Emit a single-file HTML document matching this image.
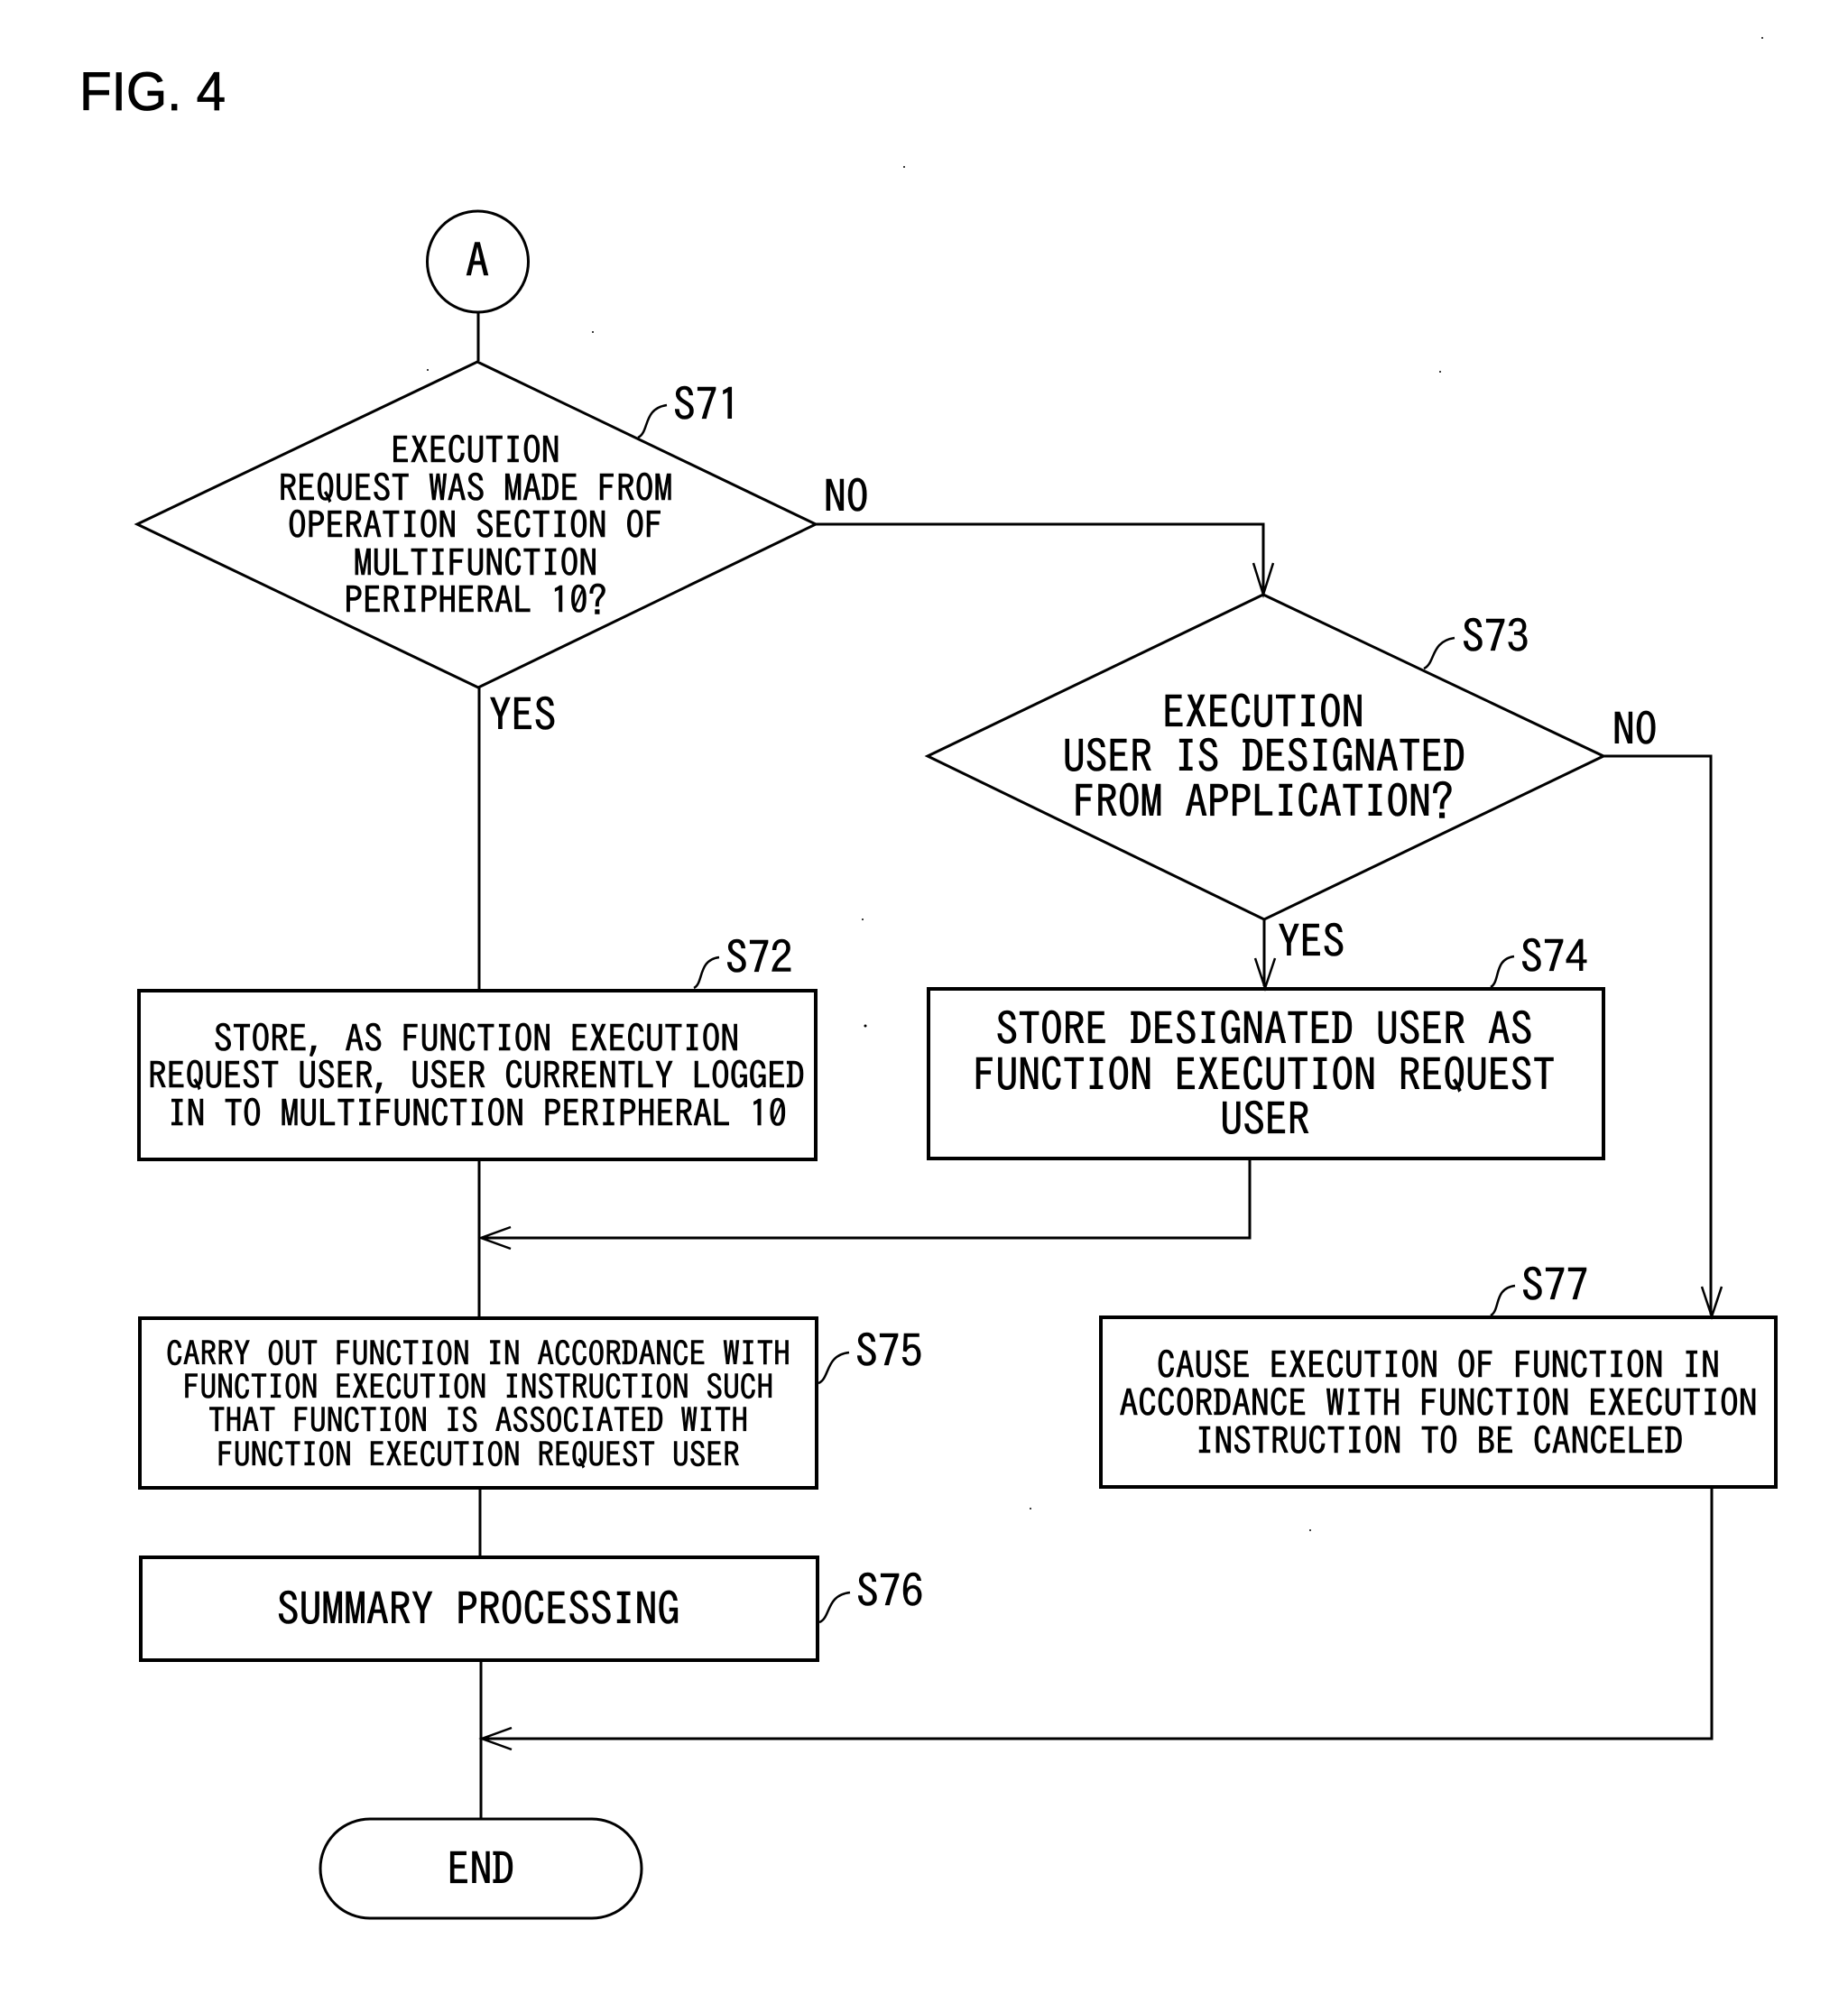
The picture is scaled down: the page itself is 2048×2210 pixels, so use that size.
<!DOCTYPE html>
<html><head><meta charset="utf-8"><style>
html,body{margin:0;padding:0;background:#fff;width:2048px;height:2210px;overflow:hidden}
svg{display:block}
text{font-family:"IPAGothic","Liberation Sans",sans-serif;fill:#000;stroke:#000;stroke-width:.6}
.m{text-anchor:middle}
.s{fill:none;stroke:#000;stroke-width:4}
.t{fill:none;stroke:#000;stroke-width:3}
.l{fill:none;stroke:#000;stroke-width:2.5}
</style></head><body>
<svg width="2048" height="2210" viewBox="0 0 2048 2210" xmlns="http://www.w3.org/2000/svg">
<text x="88" y="122" style="font-family:'Liberation Sans',sans-serif;font-size:60px;stroke-width:.8" textLength="162" lengthAdjust="spacingAndGlyphs">FIG. 4</text>

<ellipse class="t" cx="529.5" cy="290" rx="56" ry="56"/>
<path class="t" d="M530 346V400"/>
<polygon class="t" points="529,401 904,581 530,762 152,581"/>
<path class="t" d="M531 761V1097"/>
<rect class="s" x="154" y="1098" width="750" height="187"/>
<path class="t" d="M531 1285V1461"/>
<rect class="s" x="155" y="1461" width="750" height="188"/>
<path class="t" d="M532 1649V1726"/>
<rect class="s" x="156" y="1726" width="750" height="114"/>
<path class="t" d="M533 1840V2016"/>
<rect class="t" x="355" y="2016" width="356" height="110" rx="55" ry="55"/>

<path class="t" d="M903 581H1400V657"/>
<path class="l" d="M1389 624L1400 659L1411 624"/>
<polygon class="t" points="1400,659 1777,838 1401,1019 1028,838"/>
<path class="t" d="M1401 1018V1093"/>
<path class="l" d="M1391 1062L1402 1095L1413 1062"/>
<rect class="s" x="1029" y="1096" width="748" height="188"/>
<path class="t" d="M1385 1284V1372H534"/>
<path class="l" d="M566 1360L533 1372L566 1384"/>

<path class="t" d="M1777 838H1896V1457"/>
<path class="l" d="M1886 1426L1897 1459L1908 1426"/>
<rect class="s" x="1220" y="1460" width="748" height="188"/>
<path class="t" d="M1897 1648V1927H535"/>
<path class="l" d="M567 1915L534 1927L567 1939"/>

<path class="l" d="M707 485C720 479 712 453 739 449"/>
<path class="l" d="M1578 741C1591 735 1585 711 1612 707"/>
<path class="l" d="M1652 1094C1663 1088 1655 1063 1678 1060"/>
<path class="l" d="M769 1095C780 1090 773 1064 797 1061"/>
<path class="l" d="M907 1533C920 1528 914 1502 941 1499"/>
<path class="l" d="M908 1798C921 1793 915 1768 942 1765"/>
<path class="l" d="M1652 1458C1663 1452 1655 1428 1679 1425"/>

<g style="font-size:49.6px">
<text class="m" x="529" y="308" style="font-size:52px">A</text>
<text x="746" y="466">S71</text>
<text x="804" y="1079">S72</text>
<text x="1620" y="723">S73</text>
<text x="1685" y="1078">S74</text>
<text x="948" y="1515">S75</text>
<text x="949" y="1781">S76</text>
<text x="1686" y="1442">S77</text>
<text x="913" y="568">NO</text>
<text x="542" y="810">YES</text>
<text x="1787" y="826">NO</text>
<text x="1416" y="1061">YES</text>
<text class="m" x="1400" y="807">EXECUTION</text>
<text class="m" x="1401" y="856">USER IS DESIGNATED</text>
<text class="m" x="1400" y="906">FROM APPLICATION?</text>
<text class="m" x="1401" y="1158">STORE DESIGNATED USER AS</text>
<text class="m" x="1401" y="1209">FUNCTION EXECUTION REQUEST</text>
<text class="m" x="1402" y="1258">USER</text>
<text class="m" x="530" y="1801">SUMMARY PROCESSING</text>
<text class="m" x="533" y="2089">END</text>
</g>
<g style="font-size:41.6px">
<text class="m" x="527" y="514">EXECUTION</text>
<text class="m" x="527" y="556">REQUEST WAS MADE FROM</text>
<text class="m" x="527" y="597">OPERATION SECTION OF</text>
<text class="m" x="527" y="639">MULTIFUNCTION</text>
<text class="m" x="527" y="680">PERIPHERAL 10?</text>
<text class="m" x="528" y="1166">STORE, AS FUNCTION EXECUTION</text>
<text class="m" x="528" y="1207">REQUEST USER, USER CURRENTLY LOGGED</text>
<text class="m" x="529" y="1249">IN TO MULTIFUNCTION PERIPHERAL 10</text>
<text class="m" x="1594" y="1528">CAUSE EXECUTION OF FUNCTION IN</text>
<text class="m" x="1594" y="1570">ACCORDANCE WITH FUNCTION EXECUTION</text>
<text class="m" x="1595" y="1612">INSTRUCTION TO BE CANCELED</text>
</g>
<g style="font-size:37.4px">
<text class="m" x="530" y="1514">CARRY OUT FUNCTION IN ACCORDANCE WITH</text>
<text class="m" x="530" y="1551">FUNCTION EXECUTION INSTRUCTION SUCH</text>
<text class="m" x="530" y="1588">THAT FUNCTION IS ASSOCIATED WITH</text>
<text class="m" x="530" y="1626">FUNCTION EXECUTION REQUEST USER</text>
</g>
<g fill="#000">
<circle cx="1953" cy="42" r="1"/><circle cx="657" cy="368" r="1"/><circle cx="474" cy="410" r="1"/><circle cx="1596" cy="412" r="1"/><circle cx="956" cy="1019" r="1"/><circle cx="959" cy="1137" r="1.5"/><circle cx="1142" cy="1672" r="1"/><circle cx="1452" cy="1696" r="1"/><circle cx="1002" cy="185" r="1"/>
</g>
</svg>
</body></html>
